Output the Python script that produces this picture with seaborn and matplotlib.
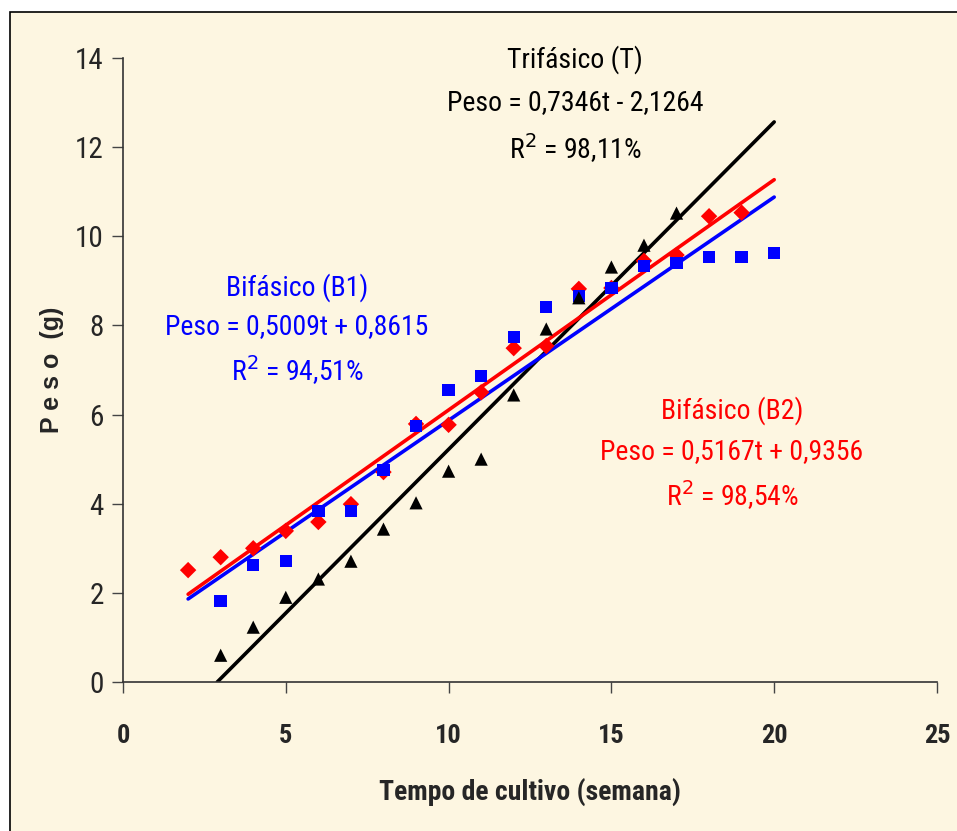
import numpy as np
import pandas as pd
import matplotlib
matplotlib.use("Agg")
import matplotlib.pyplot as plt
import seaborn as sns
from matplotlib import font_manager
from matplotlib.patches import Rectangle

# ---------------- data ----------------
t_b2 = [2, 3, 4, 5, 6, 7, 8, 9, 10, 11, 12, 13, 14, 15, 16, 17, 18, 19]
peso_b2 = [2.51, 2.80, 3.00, 3.39, 3.59, 3.99, 4.71, 5.79, 5.77, 6.50,
           7.49, 7.54, 8.82, 8.84, 9.45, 9.58, 10.45, 10.53]

t_b1 = [3, 4, 5, 6, 7, 8, 9, 10, 11, 12, 13, 14, 15, 16, 17, 18, 19, 20]
peso_b1 = [1.82, 2.62, 2.71, 3.84, 3.84, 4.76, 5.74, 6.55, 6.87, 7.74,
           8.41, 8.66, 8.84, 9.33, 9.40, 9.53, 9.53, 9.63]

t_t = [3, 4, 5, 6, 7, 8, 9, 10, 11, 12, 13, 14, 15, 16, 17]
peso_t = [0.60, 1.23, 1.90, 2.31, 2.71, 3.43, 4.02, 4.73, 5.00, 6.44,
          7.92, 8.62, 9.31, 9.80, 10.52]

# regression equations (slope, intercept) and fitted range
coef_b1 = [0.5009, 0.8615]
coef_b2 = [0.5167, 0.9356]
coef_t = [0.7346, -2.1264]
range_b1 = [2, 20]
range_b2 = [2, 20]
range_t = [2.8946, 20]

x_ticks = [0, 5, 10, 15, 20, 25]
y_ticks = [0, 2, 4, 6, 8, 10, 12, 14]

# ---------------- style ----------------
sns.set_theme(style="white")
available = {f.name for f in font_manager.fontManager.ttflist}
prefs = ["Liberation Sans Narrow", "Arial Narrow", "Nimbus Sans Narrow",
         "Roboto Condensed", "Open Sans Condensed", "PT Sans Narrow",
         "Archivo Narrow", "Barlow Semi Condensed"]
narrow = next((p for p in prefs if p in available), "Liberation Sans")
plt.rcParams["font.family"] = [narrow, "DejaVu Sans"]

BG = "#FDF6E1"
RED = "#FF0000"
BLUE = "#0000FF"
BLACK = "#000000"

fig = plt.figure(figsize=(9.57, 8.31), dpi=100, facecolor="white")
fig.patches.append(Rectangle((10 / 957, -0.01), 1.0, 1 - 12 / 831 + 0.01,
                             transform=fig.transFigure, facecolor=BG,
                             edgecolor="black", linewidth=1.2, zorder=-5))
ax = fig.add_axes([123 / 957, 1 - 682 / 831, (937 - 123) / 957, (682 - 58) / 831])
ax.set_facecolor("none")

# fitted lines
for coef, rng, col in [(coef_t, range_t, BLACK), (coef_b1, range_b1, BLUE), (coef_b2, range_b2, RED)]:
    xs = np.array(rng, dtype=float)
    df_line = pd.DataFrame({"t": xs, "p": np.polyval(coef, xs)})
    sns.lineplot(data=df_line, x="t", y="p", color=col, lw=2.6, ax=ax, zorder=2)

df_b2 = pd.DataFrame({"t": t_b2, "p": peso_b2})
df_b1 = pd.DataFrame({"t": t_b1, "p": peso_b1})
df_t = pd.DataFrame({"t": t_t, "p": peso_t})
sns.scatterplot(data=df_b2, x="t", y="p", marker="D", s=70, color=RED, edgecolor="none", ax=ax, zorder=3)
sns.scatterplot(data=df_b1, x="t", y="p", marker="s", s=80, color=BLUE, edgecolor="none", ax=ax, zorder=4)
sns.scatterplot(data=df_t, x="t", y="p", marker="^", s=90, color=BLACK, edgecolor="none", ax=ax, zorder=5)

ax.set_xlim(0, 25)
ax.set_ylim(0, 14)
ax.set_xticks(x_ticks)
ax.set_yticks(y_ticks)
ax.set_xticklabels([str(v) for v in x_ticks], fontsize=19, fontweight="bold")
ax.set_yticklabels([str(v) for v in y_ticks], fontsize=21)
ax.tick_params(axis="both", direction="out", length=8, width=1, color="#444444",
               left=True, bottom=True)
ax.tick_params(axis="x", pad=22)
ax.tick_params(axis="y", pad=6)
for s in ["top", "right"]:
    ax.spines[s].set_visible(False)
for s in ["left", "bottom"]:
    ax.spines[s].set_color("#333333")
    ax.spines[s].set_linewidth(1.2)

ax.set_xlabel("Tempo de cultivo (semana)", fontsize=20, fontweight="bold", labelpad=22)
ax.set_ylabel("P e s o  (g)", fontsize=18, fontweight="bold", labelpad=8,
              family=["Liberation Sans", "DejaVu Sans"])

# annotations
def block(xpix, ypixs, lines, color):
    for yp, txt in zip(ypixs, lines):
        fig.text(xpix / 957, 1 - yp / 831, txt, ha="center", va="center",
                 fontsize=20, color=color)

block(575, [60, 103, 148], ["Trifásico (T)", "Peso = 0,7346t - 2,1264", r"R$^2$ = 98,11%"], BLACK)
block(297, [288, 327, 370], ["Bifásico (B1)", "Peso = 0,5009t + 0,8615", r"R$^2$ = 94,51%"], BLUE)
block(732, [411, 452, 495], ["Bifásico (B2)", "Peso = 0,5167t + 0,9356", r"R$^2$ = 98,54%"], RED)

fig.savefig("out.png", dpi=100, facecolor=fig.get_facecolor())
